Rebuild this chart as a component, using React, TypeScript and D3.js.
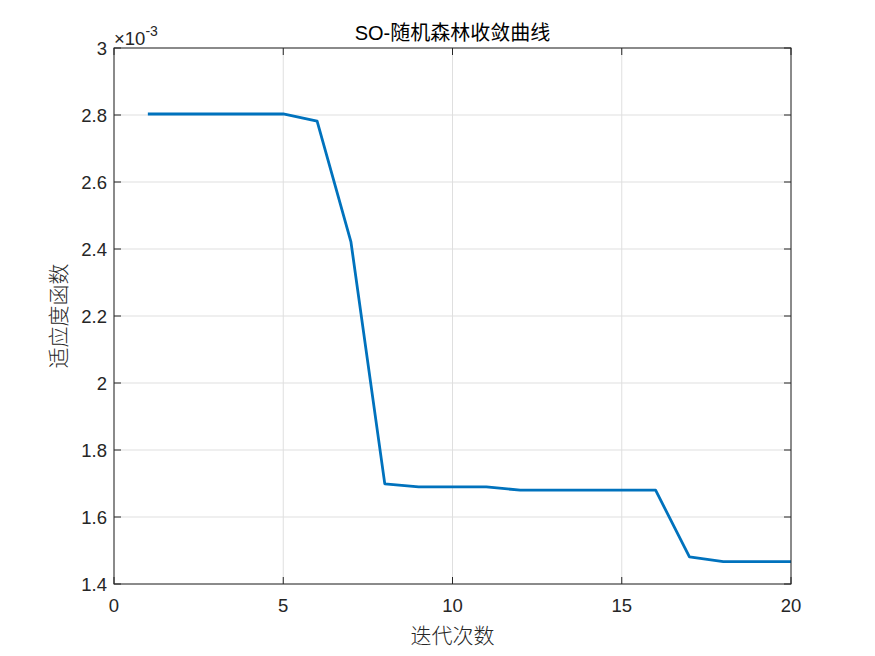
import * as d3 from "d3";

const iterations = [1, 2, 3, 4, 5, 6, 7, 8, 9, 10, 11, 12, 13, 14, 15, 16, 17, 18, 19, 20];
const fitness = [
  2.803, 2.803, 2.803, 2.803, 2.803, 2.782, 2.421, 1.699, 1.69, 1.69,
  1.69, 1.68, 1.68, 1.68, 1.68, 1.68, 1.481, 1.467, 1.467, 1.467,
];
const xTicks = [0, 5, 10, 15, 20];
const yTicks = [1.4, 1.6, 1.8, 2, 2.2, 2.4, 2.6, 2.8, 3];

const W = 875;
const H = 656;
const margin = { top: 48, right: 84, bottom: 72, left: 114 };
const axisColor = "#262626";
const font = "'Liberation Sans', Arial, sans-serif";
const cjk = "'Noto Sans CJK SC', sans-serif";

export default function App() {
  const innerW = W - margin.left - margin.right;
  const innerH = H - margin.top - margin.bottom;

  const x = d3.scaleLinear().domain([0, 20]).range([0, innerW]);
  const y = d3.scaleLinear().domain([1.4, 3]).range([innerH, 0]);

  const line = d3
    .line<number>()
    .x((_, i) => x(iterations[i]))
    .y((d) => y(d));

  return (
    <svg width={W} height={H} style={{ position: "absolute", left: 0, top: 0, background: "#fff" }}>
      <g transform={`translate(${margin.left},${margin.top})`}>
        {/* grid */}
        {xTicks.map((t) => (
          <line key={"gx" + t} x1={x(t)} x2={x(t)} y1={0} y2={innerH} stroke="#dfdfdf" strokeWidth={1} />
        ))}
        {yTicks.map((t) => (
          <line key={"gy" + t} x1={0} x2={innerW} y1={y(t)} y2={y(t)} stroke="#dfdfdf" strokeWidth={1} />
        ))}

        <path d={line(fitness) ?? ""} fill="none" stroke="#0072BD" strokeWidth={2.8} strokeLinejoin="round" />

        {/* box */}
        <rect x={0} y={0} width={innerW} height={innerH} fill="none" stroke={axisColor} strokeWidth={1} />

        {/* x ticks */}
        {xTicks.map((t) => (
          <g key={"tx" + t} transform={`translate(${x(t)},0)`}>
            <line y1={innerH} y2={innerH - 7} stroke={axisColor} />
            <line y1={0} y2={7} stroke={axisColor} />
            <text y={innerH + 28} textAnchor="middle" fontFamily={font} fontSize={18.5} fill={axisColor}>
              {t}
            </text>
          </g>
        ))}

        {/* y ticks */}
        {yTicks.map((t) => (
          <g key={"ty" + t} transform={`translate(0,${y(t)})`}>
            <line x1={0} x2={7} stroke={axisColor} />
            <line x1={innerW} x2={innerW - 7} stroke={axisColor} />
            <text x={-7} dy="0.36em" textAnchor="end" fontFamily={font} fontSize={18.5} fill={axisColor}>
              {d3.format("~g")(t)}
            </text>
          </g>
        ))}

        {/* exponent */}
        <text x={0} y={-3} fontFamily={font} fontSize={18.5} fill={axisColor}>
          ×10
          <tspan dy={-9} fontSize={14}>-3</tspan>
        </text>

        {/* title */}
        <text x={innerW / 2} y={-8} textAnchor="middle" fontSize={20} fill="#000">
          <tspan fontFamily={font}>SO-</tspan>
          <tspan fontFamily={cjk}>随机森林收敛曲线</tspan>
        </text>

        {/* axis labels */}
        <text
          x={innerW / 2}
          y={innerH + 59}
          textAnchor="middle"
          fontFamily={cjk}
          fontSize={21}
          fontWeight={300}
          fill={axisColor}
        >
          迭代次数
        </text>
        <text
          transform={`translate(-48,${innerH / 2}) rotate(-90)`}
          textAnchor="middle"
          fontFamily={cjk}
          fontSize={21}
          fontWeight={300}
          fill={axisColor}
        >
          适应度函数
        </text>
      </g>
    </svg>
  );
}
